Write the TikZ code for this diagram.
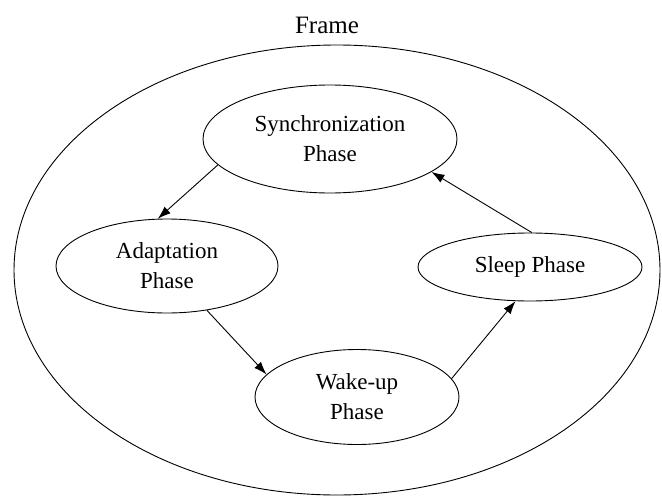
\documentclass[tikz,border=0pt]{standalone}
\usepackage{fontspec}
\setmainfont{Liberation Serif}
\usetikzlibrary{shapes.geometric,arrows.meta}

\begin{document}
\begin{tikzpicture}[x=1pt, y=-1pt,
    phase/.style={draw, ellipse, line width=0.9pt, inner sep=0pt, align=center,
      font=\fontsize{23}{30}\selectfont},
    flow/.style={-{Latex[length=13pt, width=9pt]}, line width=0.9pt}]
  \useasboundingbox (0,0) rectangle (662,498);
  \node[phase, minimum width=646pt, minimum height=450pt] (frame) at (337,270) {};
  \node[font=\fontsize{25}{30}\selectfont] (framelabel) at (327,25) {Frame};

  \node[phase, minimum width=254pt, minimum height=108pt] (sync) at (330,139) {Synchronization\\Phase};
  \node[phase, minimum width=222pt, minimum height=94pt] (adapt) at (167,266) {Adaptation\\Phase};
  \node[phase, minimum width=224pt, minimum height=68pt] (sleep) at (530,267) {Sleep Phase};
  \node[phase, minimum width=204pt, minimum height=95pt] (wake) at (357,397) {Wake-up\\Phase};

  \draw[flow] (sync.193) -- (adapt.101);
  \draw[flow] (adapt.312) -- (wake.166);
  \draw[flow] (wake.11) -- (sleep.247);
  \draw[flow] (sleep.87) -- (sync.342);
\end{tikzpicture}
\end{document}
